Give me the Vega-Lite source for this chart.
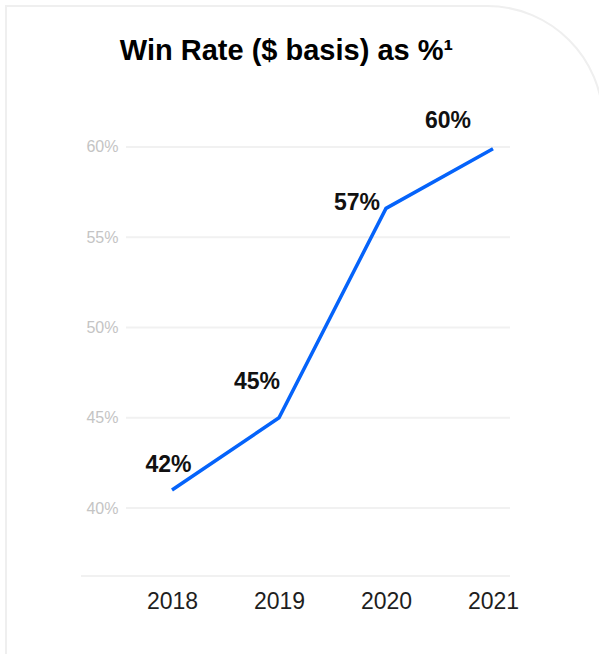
{
  "$schema": "https://vega.github.io/schema/vega-lite/v6.json",
  "width": 597,
  "height": 700,
  "padding": {"left": 5, "top": 5, "right": 0, "bottom": 0},
  "background": "white",
  "config": {
    "view": {"stroke": null},
    "font": "Liberation Sans"
  },
  "title": {
    "text": "Win Rate ($ basis) as %¹",
    "fontSize": 29,
    "fontWeight": "bold",
    "color": "#000000",
    "anchor": "middle",
    "frame": "group",
    "offset": -61,
    "dx": -18
  },
  "datasets": {
    "main": [
      {"year": 2018, "rate": 0.41, "label": "42%"},
      {"year": 2019, "rate": 0.45, "label": "45%"},
      {"year": 2020, "rate": 0.566, "label": "57%"},
      {"year": 2021, "rate": 0.599, "label": "60%"}
    ],
    "grid": [
      {"v": 0.4}, {"v": 0.45}, {"v": 0.5}, {"v": 0.55}, {"v": 0.6}
    ]
  },
  "layer": [
    {
      "data": {"values": [{}]},
      "mark": {"type": "rect", "fill": "white", "fillOpacity": 0, "stroke": "#efefef", "strokeWidth": 2, "cornerRadiusTopRight": 116},
      "encoding": {
        "x": {"datum": 2016.4486, "type": "quantitative", "scale": {"domain": [2016.4486, 2022.028], "nice": false, "zero": false}},
        "x2": {"datum": 2022.028},
        "y": {"datum": 0.678116, "type": "quantitative", "scale": {"domain": [0.290305, 0.678116], "nice": false, "zero": false}},
        "y2": {"datum": 0.3059}
      }
    },
    {
      "data": {"name": "grid"},
      "mark": {"type": "rule", "color": "#f1f1f1", "strokeWidth": 2},
      "encoding": {
        "y": {"field": "v", "type": "quantitative", "scale": {"domain": [0.290305, 0.678116], "nice": false, "zero": false}},
        "x": {"datum": 2017.5701, "type": "quantitative", "scale": {"domain": [2016.4486, 2022.028], "nice": false, "zero": false}},
        "x2": {"datum": 2021.1589}
      }
    },
    {
      "data": {"values": [{}]},
      "mark": {"type": "rule", "color": "#f1f1f1", "strokeWidth": 2},
      "encoding": {
        "y": {"datum": 0.3623, "type": "quantitative", "scale": {"domain": [0.290305, 0.678116], "nice": false, "zero": false}},
        "x": {"datum": 2017.1495, "type": "quantitative", "scale": {"domain": [2016.4486, 2022.028], "nice": false, "zero": false}},
        "x2": {"datum": 2021.1589}
      }
    },
    {
      "data": {"name": "main"},
      "mark": {"type": "line", "color": "#0563fa", "strokeWidth": 3.5},
      "encoding": {
        "x": {
          "field": "year", "type": "quantitative",
          "scale": {"domain": [2016.4486, 2022.028], "nice": false, "zero": false},
          "axis": {
            "values": [2018, 2019, 2020, 2021], "format": "d", "grid": false, "ticks": false, "domain": false,
            "tickSize": 0, "labelPadding": 0, "offset": -98, "labelBaseline": "alphabetic",
            "labelColor": "#1e1e1e", "labelFontSize": 23, "labelFlush": false, "title": null
          }
        },
        "y": {
          "field": "rate", "type": "quantitative",
          "scale": {"domain": [0.290305, 0.678116], "nice": false, "zero": false},
          "axis": {
            "values": [0.4, 0.45, 0.5, 0.55, 0.6], "format": ".0%", "grid": false, "ticks": false, "domain": false,
            "tickSize": 0, "labelPadding": 0, "offset": -112, "labelColor": "#c4c4c4", "labelFontSize": 16,
            "labelFlush": false, "title": null
          }
        }
      }
    },
    {
      "data": {"name": "main"},
      "transform": [{"filter": "datum.year == 2018"}],
      "mark": {"type": "text", "fontSize": 23, "fontWeight": "bold", "color": "#111111", "align": "center", "baseline": "alphabetic", "dx": -3.5, "dy": -18},
      "encoding": {
        "x": {"field": "year", "type": "quantitative"},
        "y": {"field": "rate", "type": "quantitative"},
        "text": {"field": "label"}
      }
    },
    {
      "data": {"name": "main"},
      "transform": [{"filter": "datum.year == 2019"}],
      "mark": {"type": "text", "fontSize": 23, "fontWeight": "bold", "color": "#111111", "align": "center", "baseline": "alphabetic", "dx": -22, "dy": -29},
      "encoding": {
        "x": {"field": "year", "type": "quantitative"},
        "y": {"field": "rate", "type": "quantitative"},
        "text": {"field": "label"}
      }
    },
    {
      "data": {"name": "main"},
      "transform": [{"filter": "datum.year == 2020"}],
      "mark": {"type": "text", "fontSize": 23, "fontWeight": "bold", "color": "#111111", "align": "right", "baseline": "alphabetic", "dx": -6, "dy": 2},
      "encoding": {
        "x": {"field": "year", "type": "quantitative"},
        "y": {"field": "rate", "type": "quantitative"},
        "text": {"field": "label"}
      }
    },
    {
      "data": {"name": "main"},
      "transform": [{"filter": "datum.year == 2021"}],
      "mark": {"type": "text", "fontSize": 23, "fontWeight": "bold", "color": "#111111", "align": "center", "baseline": "alphabetic", "dx": -45, "dy": -21},
      "encoding": {
        "x": {"field": "year", "type": "quantitative"},
        "y": {"field": "rate", "type": "quantitative"},
        "text": {"field": "label"}
      }
    }
  ]
}
